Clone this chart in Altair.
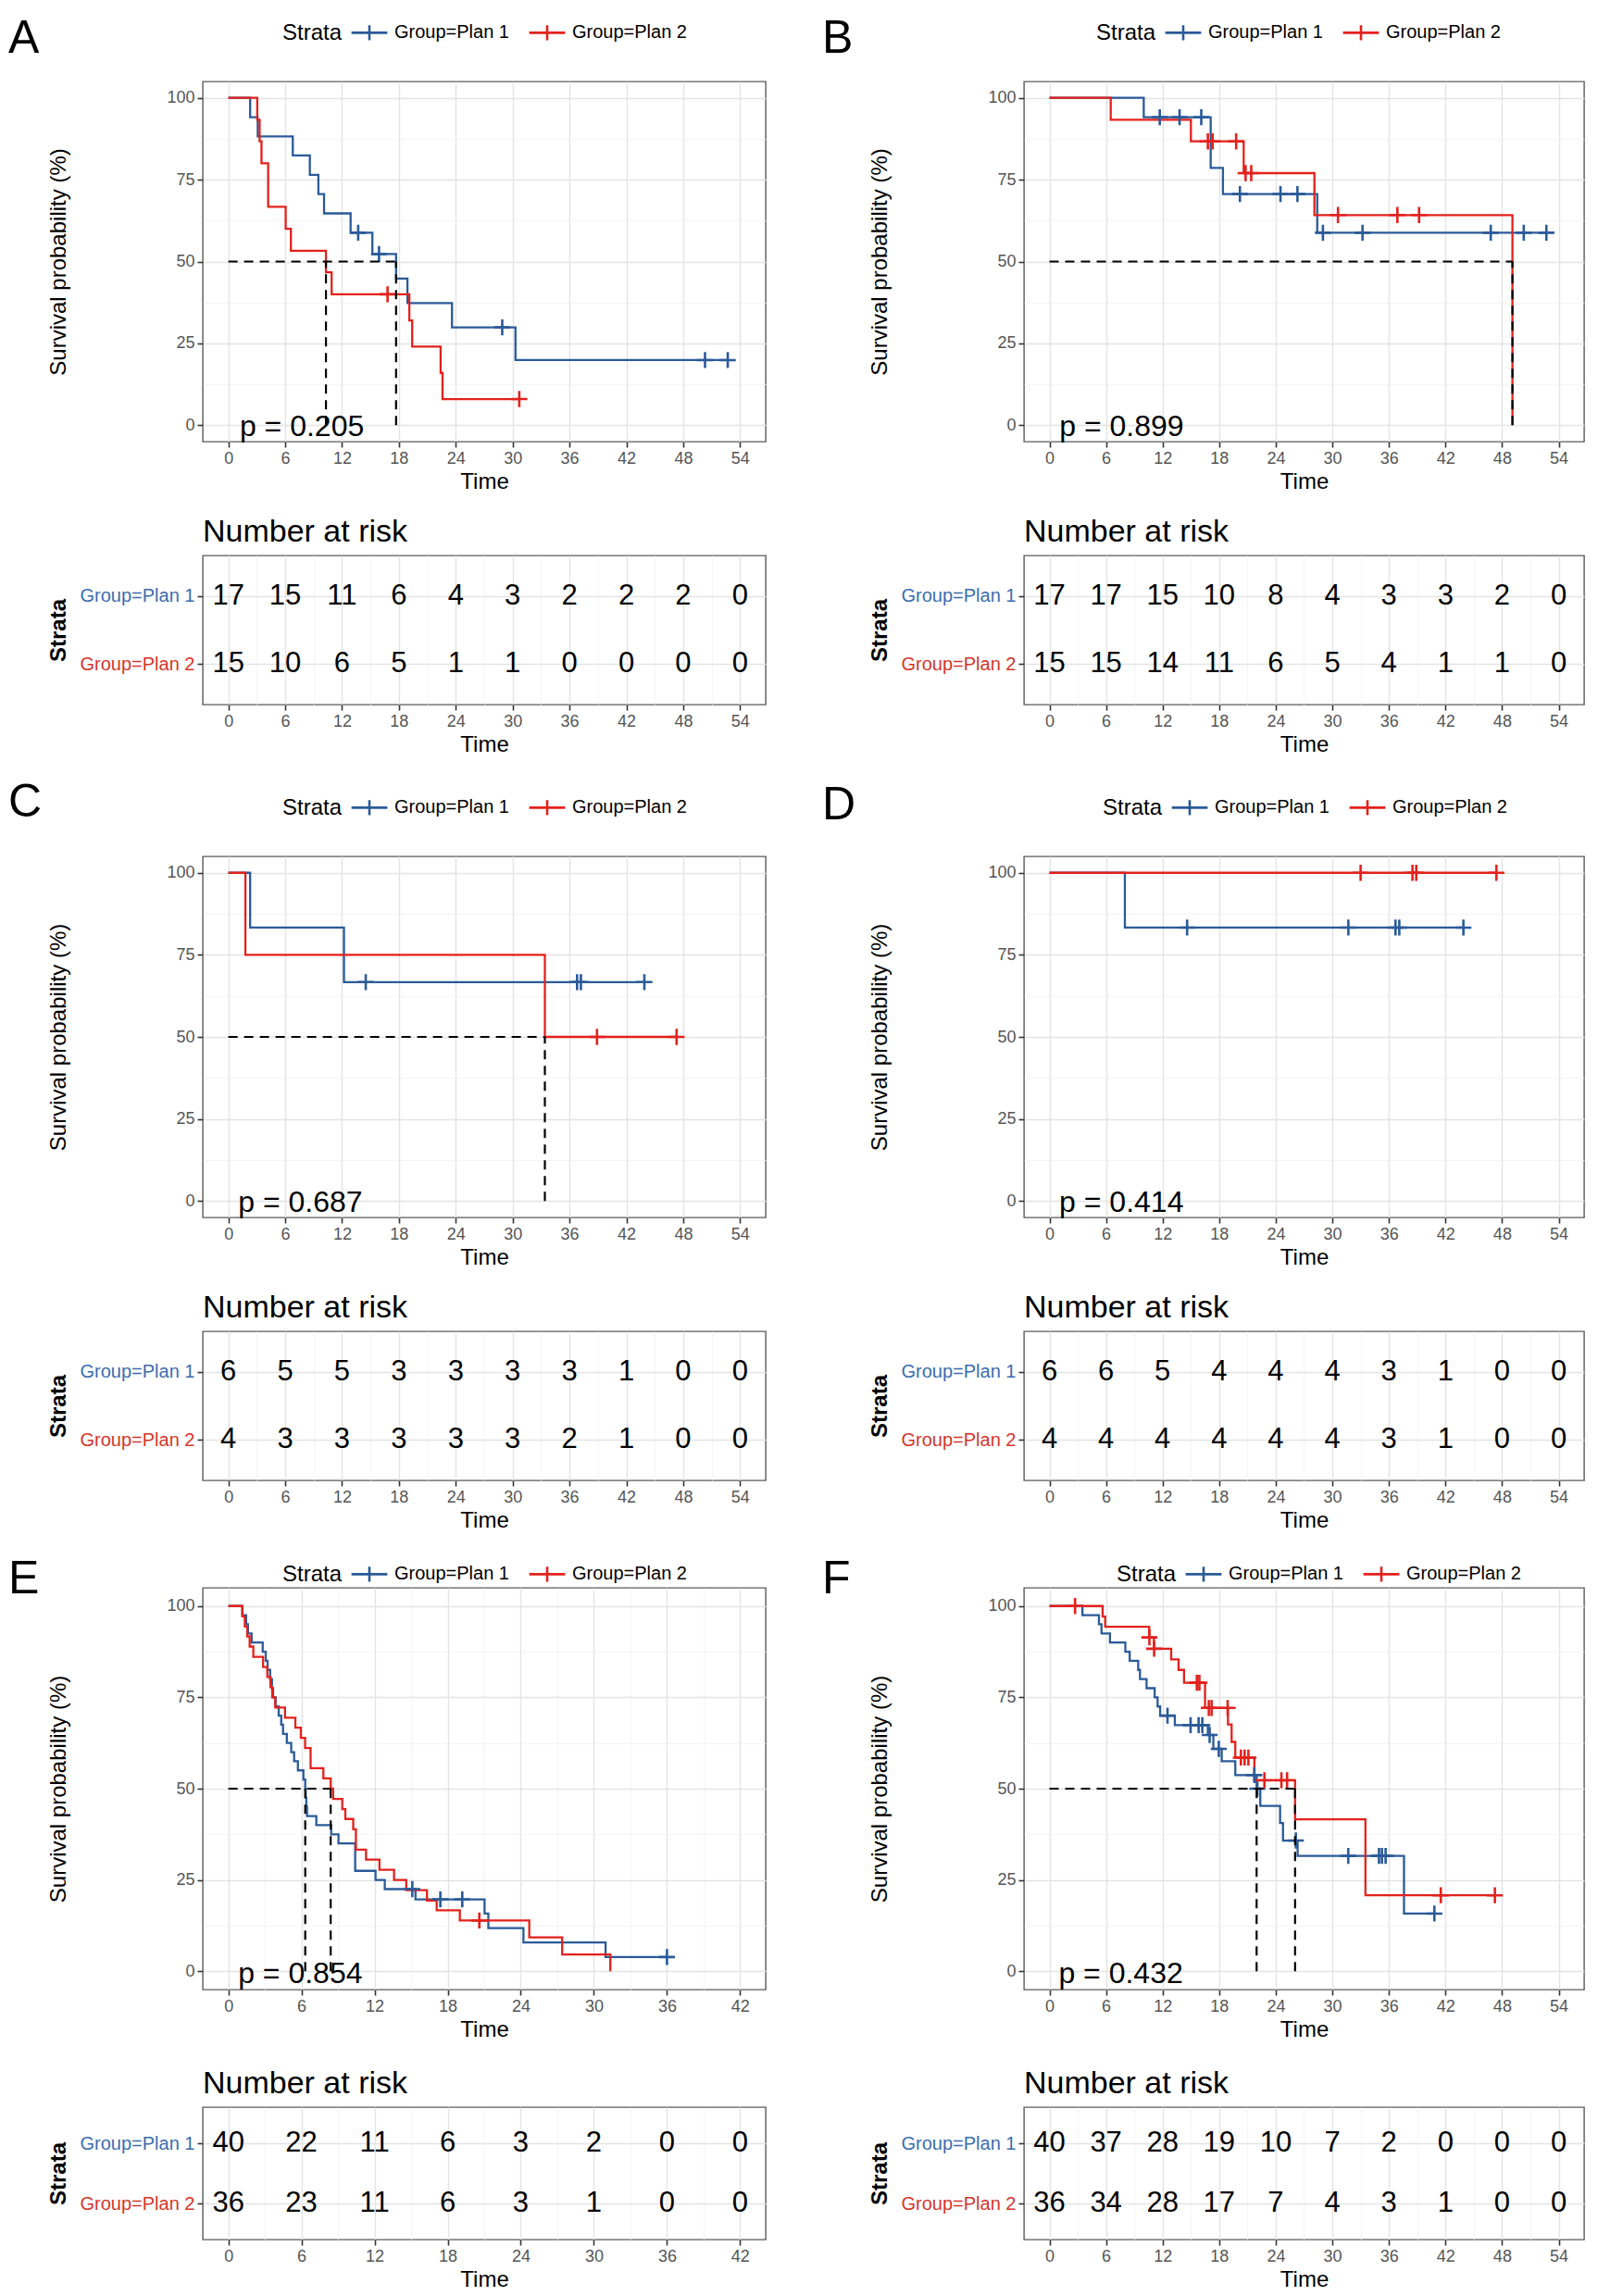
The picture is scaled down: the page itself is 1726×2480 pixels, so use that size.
import altair as alt
import pandas as pd

FONT = "Liberation Sans, Arial, Helvetica, sans-serif"
BLUE = "#2A5A98"
RED = "#E3211C"
BLUE_LAB = "#3A6DAF"
RED_LAB = "#D3362B"
STRATA = ["Group=Plan 1", "Group=Plan 2"]

# ---------------- Panel A ----------------
A_p1_time = [0, 2.3, 3.1, 6.8, 8.6, 9.5, 10.1, 12.9, 15.2, 17.7, 18.9, 23.6, 30.3, 52.7]
A_p1_surv = [100, 94.1, 88.2, 82.4, 76.5, 70.6, 64.7, 58.8, 52.3, 44.8, 37.3, 29.9, 19.9, 19.9]
A_p1_cens_time = [13.7, 15.9, 28.9, 50.3, 52.7]
A_p1_cens_surv = [58.8, 52.3, 29.9, 19.9, 19.9]
A_p2_time = [0, 3.05, 3.3, 3.5, 4.2, 6.05, 6.6, 10.3, 10.9, 19.1, 19.4, 22.4, 22.6, 30.7]
A_p2_surv = [100, 93.3, 86.7, 80.0, 66.7, 60.0, 53.3, 46.7, 40.0, 32.0, 24.0, 16.0, 8.0, 8.0]
A_p2_cens_time = [16.8, 30.7]
A_p2_cens_surv = [40.0, 8.0]
A_medians = [17.7, 10.3]
A_pval = "p = 0.205"
A_risk_p1 = [17, 15, 11, 6, 4, 3, 2, 2, 2, 0]
A_risk_p2 = [15, 10, 6, 5, 1, 1, 0, 0, 0, 0]

# ---------------- Panel B ----------------
B_p1_time = [0, 10.0, 17.1, 18.4, 28.4, 52.7]
B_p1_surv = [100, 94.1, 78.6, 70.6, 58.8, 58.8]
B_p1_cens_time = [11.7, 13.8, 16.1, 20.2, 24.5, 26.3, 29.0, 33.2, 46.8, 50.3, 52.7]
B_p1_cens_surv = [94.1, 94.1, 94.1, 70.6, 70.6, 70.6, 58.8, 58.8, 58.8, 58.8, 58.8]
B_p2_time = [0, 6.5, 15.0, 20.6, 28.1, 49.1]
B_p2_surv = [100, 93.3, 86.7, 77.0, 64.2, 0]
B_p2_cens_time = [16.8, 17.3, 19.8, 20.8, 21.4, 30.6, 36.9, 39.2]
B_p2_cens_surv = [86.7, 86.7, 86.7, 77.0, 77.0, 64.2, 64.2, 64.2]
B_medians = [49.1]
B_pval = "p = 0.899"
B_risk_p1 = [17, 17, 15, 10, 8, 4, 3, 3, 2, 0]
B_risk_p2 = [15, 15, 14, 11, 6, 5, 4, 1, 1, 0]

# ---------------- Panel C ----------------
C_p1_time = [0, 2.3, 12.2, 43.9]
C_p1_surv = [100, 83.3, 66.7, 66.7]
C_p1_cens_time = [14.5, 36.8, 37.2, 43.9]
C_p1_cens_surv = [66.7, 66.7, 66.7, 66.7]
C_p2_time = [0, 1.8, 33.4, 47.3]
C_p2_surv = [100, 75.0, 50.0, 50.0]
C_p2_cens_time = [38.9, 47.3]
C_p2_cens_surv = [50.0, 50.0]
C_medians = [33.4]
C_pval = "p = 0.687"
C_risk_p1 = [6, 5, 5, 3, 3, 3, 3, 1, 0, 0]
C_risk_p2 = [4, 3, 3, 3, 3, 3, 2, 1, 0, 0]

# ---------------- Panel D ----------------
D_p1_time = [0, 8.0, 43.9]
D_p1_surv = [100, 83.3, 83.3]
D_p1_cens_time = [14.6, 31.7, 36.7, 37.1, 43.9]
D_p1_cens_surv = [83.3, 83.3, 83.3, 83.3, 83.3]
D_p2_time = [0, 47.4]
D_p2_surv = [100, 100]
D_p2_cens_time = [33.0, 38.5, 38.9, 47.4]
D_p2_cens_surv = [100, 100, 100, 100]
D_medians = []
D_pval = "p = 0.414"
D_risk_p1 = [6, 6, 5, 4, 4, 4, 3, 1, 0, 0]
D_risk_p2 = [4, 4, 4, 4, 4, 4, 3, 1, 0, 0]

# ---------------- Panel E ----------------
E_p1_time = [0, 1.15, 1.46, 1.61, 1.91, 2.82, 3.07, 3.22, 3.43, 3.58, 3.67, 3.88, 4.13, 4.34,
             4.49, 4.80, 5.16, 5.40, 5.71, 6.16, 6.31, 6.35, 6.40, 6.46, 7.22, 8.44, 9.04,
             10.41, 12.08, 12.84, 15.36, 21.03, 21.34, 24.22, 30.96, 36.0]
E_p1_surv = [100, 97.5, 95, 92.5, 90, 87.5, 85, 82.5, 80, 77.5, 75, 72.5, 70, 67.5,
             65, 62.5, 60, 57.5, 55, 52.5, 50, 47.5, 45, 42.5, 40, 37.5, 35,
             27.5, 25, 22.5, 19.7, 15.8, 11.8, 7.9, 3.9, 3.9]
E_p1_cens_time = [15.1, 17.4, 19.2, 36.0]
E_p1_cens_surv = [22.5, 19.7, 19.7, 3.9]
E_p2_time = [0, 1.15, 1.35, 1.55, 1.75, 2.05, 2.85, 3.2, 3.45, 3.6, 3.85, 4.65, 5.5, 5.95,
             6.3, 6.75, 7.8, 8.4, 8.6, 9.35, 9.6, 10.25, 10.47, 11.3, 12.4, 13.6, 14.6,
             16.3, 17.1, 19.0, 24.7, 27.4, 31.35]
E_p2_surv = [100, 97.2, 94.4, 91.7, 88.9, 86.1, 83.3, 80.6, 77.8, 75.0, 72.2, 69.4, 66.7, 63.9,
             61.1, 55.6, 52.8, 50.0, 47.2, 44.4, 41.7, 38.9, 33.3, 30.6, 27.8, 25.0, 22.2,
             19.4, 16.7, 13.9, 9.3, 4.6, 0]
E_p2_cens_time = [20.6]
E_p2_cens_surv = [13.9]
E_medians = [6.31, 8.4]
E_pval = "p = 0.854"
E_risk_p1 = [40, 22, 11, 6, 3, 2, 0, 0]
E_risk_p2 = [36, 23, 11, 6, 3, 1, 0, 0]

# ---------------- Panel F ----------------
F_p1_time = [0, 3.50, 5.25, 5.52, 6.42, 8.05, 8.51, 9.41, 9.60, 10.30, 11.16, 11.47, 11.74,
             13.30, 16.80, 17.38, 18.27, 19.71, 21.97, 22.36, 24.46, 24.77, 26.32, 37.60, 40.82]
F_p1_surv = [100, 97.5, 95.0, 92.5, 90.0, 87.5, 85.0, 82.5, 80.0, 77.5, 75.0, 72.5, 70.0,
             67.4, 64.7, 60.9, 57.5, 53.7, 50.0, 45.3, 40.6, 35.8, 31.6, 15.8, 15.8]
F_p1_cens_time = [12.52, 14.97, 15.82, 16.21, 16.99, 17.96, 21.73, 22.05, 26.13, 31.69,
                  34.95, 35.26, 35.65, 40.82]
F_p1_cens_surv = [70.0, 67.4, 67.4, 67.4, 64.7, 60.9, 53.7, 50.0, 35.8, 31.6,
                  31.6, 31.6, 31.6, 15.8]
F_p2_time = [0, 5.64, 5.91, 10.58, 11.08, 12.91, 13.69, 14.27, 16.5, 18.93, 19.32, 19.71,
             21.73, 26.05, 33.51, 47.24]
F_p2_surv = [100, 97.1, 94.3, 91.4, 88.3, 85.4, 82.5, 79.0, 72.1, 67.6, 62.8, 58.5,
             52.3, 41.6, 20.8, 20.8]
F_p2_cens_time = [2.72, 10.6, 11.1, 15.63, 15.9, 16.9, 17.2, 18.9, 20.3, 20.7, 21.1,
                  22.8, 24.6, 25.2, 41.5, 47.24]
F_p2_cens_surv = [100, 91.4, 88.3, 79.0, 79.0, 72.1, 72.1, 72.1, 58.5, 58.5, 58.5,
                  52.3, 52.3, 52.3, 20.8, 20.8]
F_medians = [21.97, 26.05]
F_pval = "p = 0.432"
F_risk_p1 = [40, 37, 28, 19, 10, 7, 2, 0, 0, 0]
F_risk_p2 = [36, 34, 28, 17, 7, 4, 3, 1, 0, 0]

MAJOR = "#E3E3E3"
MINOR = "#F1F1F1"


def x_axis(xmax):
    return alt.Axis(
        values=list(range(0, xmax + 1, 3)),
        labelExpr="datum.value % 6 === 0 ? datum.label : ''",
        title="Time",
        grid=True,
        gridColor={"condition": {"test": "datum.value % 6 === 0", "value": MAJOR}, "value": MINOR},
        gridWidth={"condition": {"test": "datum.value % 6 === 0", "value": 1.4}, "value": 0.8},
        tickOpacity={"condition": {"test": "datum.value % 6 === 0", "value": 1}, "value": 0},
        domain=False, labelOverlap=False, labelFlush=False,
        labelFontSize=18, labelColor="#555555", labelPadding=3,
        titleFontSize=24, titleFontWeight="normal", titleColor="black", titlePadding=4,
        tickColor="#333333", tickSize=6, tickWidth=1.6,
    )


def panel(letter, d, xmax, km_h, risk_h, width, letter_x, letter_y, leg_x, leg_y, gap, pval_x):
    (p1t, p1s, p1ct, p1cs, p2t, p2s, p2ct, p2cs, medians, pval, r1, r2) = d
    lines = pd.DataFrame(
        [{"time": t, "surv": s, "strata": STRATA[0], "o": i} for i, (t, s) in enumerate(zip(p1t, p1s))]
        + [{"time": t, "surv": s, "strata": STRATA[1], "o": i} for i, (t, s) in enumerate(zip(p2t, p2s))]
    )
    cens = pd.DataFrame(
        [{"time": t, "surv": s, "strata": STRATA[0]} for t, s in zip(p1ct, p1cs)]
        + [{"time": t, "surv": s, "strata": STRATA[1]} for t, s in zip(p2ct, p2cs)]
    )

    xdom = [-0.05 * xmax, 1.05 * xmax]
    xs = alt.Scale(domain=xdom, nice=False, zero=False)
    ys = alt.Scale(domain=[-5, 105], nice=False, zero=False)
    yaxis = alt.Axis(
        values=[0, 12.5, 25, 37.5, 50, 62.5, 75, 87.5, 100],
        labelExpr="datum.value % 25 === 0 ? datum.label : ''",
        title="Survival probability (%)",
        grid=True,
        gridColor={"condition": {"test": "datum.value % 25 === 0", "value": MAJOR}, "value": MINOR},
        gridWidth={"condition": {"test": "datum.value % 25 === 0", "value": 1.4}, "value": 0.8},
        tickOpacity={"condition": {"test": "datum.value % 25 === 0", "value": 1}, "value": 0},
        domain=False, labelOverlap=False, labelFlush=False,
        labelFontSize=18, labelColor="#555555", labelPadding=3,
        titleFontSize=24, titleFontWeight="normal", titleColor="black",
        titleX=-156, titleY=km_h / 2, titleAngle=270, titleAlign="center", titleBaseline="middle",
        tickColor="#333333", tickSize=6, tickWidth=1.6,
    )
    legend = alt.Legend(
        title="Strata", orient="none", legendX=leg_x, legendY=leg_y, direction="horizontal",
        titleOrient="left", titleFontSize=24, titleFontWeight="normal", titleColor="black",
        titleFont=FONT, labelFont=FONT, labelFontSize=20, labelColor="black",
        symbolType="M-1,0H1M0,-0.42V0.42", symbolSize=1500, symbolStrokeWidth=2.6,
        symbolFillColor="transparent", labelOffset=6, columnPadding=16, titlePadding=8,
        titleBaseline="line-top", titleLineHeight=10, titleAnchor="middle",
    )
    color = alt.Color("strata:N", scale=alt.Scale(domain=STRATA, range=[BLUE, RED]), legend=legend)

    base_x = alt.X("time:Q", scale=xs, axis=x_axis(xmax))
    base_y = alt.Y("surv:Q", scale=ys, axis=yaxis)

    layers = []
    layers.append(alt.Chart(lines).mark_line(interpolate="step-after", strokeWidth=2.3).encode(
        x=base_x, y=base_y, color=color, order="o:Q", detail="strata:N"
    ))
    layers.append(alt.Chart(cens).mark_point(
        shape="M-1,0H1M0,-1V1", filled=False, size=300, strokeWidth=2.6, opacity=1
    ).encode(x="time:Q", y="surv:Q", color=color))
    if medians:
        rules = [{"x": 0, "x2": max(medians), "y": 50, "y2": 50}]
        for m in medians:
            rules.append({"x": m, "x2": m, "y": 0, "y2": 50})
        layers.append(alt.Chart(pd.DataFrame(rules)).mark_rule(
            color="black", strokeDash=[10, 7], strokeWidth=2.2
        ).encode(x="x:Q", x2="x2:Q", y="y:Q", y2="y2:Q"))
    layers.append(alt.Chart(pd.DataFrame({"time": [pval_x], "surv": [-3.3], "label": [pval]})).mark_text(
        align="left", baseline="alphabetic", fontSize=32, font=FONT, color="black"
    ).encode(x="time:Q", y="surv:Q", text="label:N"))
    layers.append(alt.Chart(pd.DataFrame({"letter": [letter]})).mark_text(
        align="left", baseline="middle", fontSize=50, font=FONT, color="black"
    ).encode(x=alt.value(letter_x), y=alt.value(letter_y), text="letter:N"))

    km = alt.layer(*layers).properties(width=width, height=km_h)

    rt = list(range(0, xmax + 1, 6))
    risk_df = pd.DataFrame(
        [{"time": t, "row": 1, "n": n} for t, n in zip(rt, r1)]
        + [{"time": t, "row": 2, "n": n} for t, n in zip(rt, r2)]
    )
    ry_axis = alt.Axis(
        values=[1, 2],
        labelExpr="datum.value === 1 ? 'Group=Plan 1' : 'Group=Plan 2'",
        labelColor={"condition": {"test": "datum.value === 1", "value": BLUE_LAB}, "value": RED_LAB},
        title="Strata", grid=True, gridColor=MAJOR, gridWidth=1.4, domain=False,
        labelFontSize=20, labelPadding=3, labelOverlap=False,
        titleFontSize=24, titleFontWeight="bold", titleColor="black",
        titleX=-156, titleY=risk_h / 2, titleAngle=270, titleAlign="center", titleBaseline="middle",
        tickColor="#333333", tickSize=6, tickWidth=1.6,
    )
    risk = alt.Chart(risk_df).mark_text(fontSize=31, font=FONT, color="black").encode(
        x=alt.X("time:Q", scale=alt.Scale(domain=xdom, nice=False, zero=False), axis=x_axis(xmax)),
        y=alt.Y("row:Q", scale=alt.Scale(domain=[0.4, 2.6], reverse=True, nice=False, zero=False),
                axis=ry_axis),
        text="n:Q",
    ).properties(
        width=width, height=risk_h,
        title=alt.TitleParams("Number at risk", anchor="start", frame="group", fontSize=34,
                              fontWeight="normal", font=FONT, color="black", offset=8),
    )
    return alt.vconcat(km, risk, spacing=gap).resolve_scale(color="independent", x="independent", y="independent")


def data(prefix):
    g = globals()
    return tuple(g[prefix + k] for k in [
        "_p1_time", "_p1_surv", "_p1_cens_time", "_p1_cens_surv",
        "_p2_time", "_p2_surv", "_p2_cens_time", "_p2_cens_surv",
        "_medians", "_pval", "_risk_p1", "_risk_p2"])


pA = panel("A", data("A"), 54, 389, 161, 608, -210, -46, 86, -74, 24, 1.2)
pB = panel("B", data("B"), 54, 389, 161, 605, -218, -46, 78, -74, 24, 1.05)
pC = panel("C", data("C"), 54, 390, 161, 608, -210, -58, 86, -74, 24, 1.04)
pD = panel("D", data("D"), 54, 390, 161, 605, -218, -55, 85, -74, 24, 1.04)
pE = panel("E", data("E"), 42, 434, 143, 608, -210, -9, 86, -36, 28, 0.8)
pF = panel("F", data("F"), 54, 434, 143, 605, -218, -9, 100, -36, 28, 0.97)

row1 = alt.hconcat(pA, pB, spacing=59).resolve_scale(color="independent")
row2 = alt.hconcat(pC, pD, spacing=59).resolve_scale(color="independent")
row3 = alt.hconcat(pE, pF, spacing=59).resolve_scale(color="independent")

top = alt.vconcat(row1, row2, spacing=24).resolve_scale(color="independent")
chart = alt.vconcat(top, row3, spacing=23).resolve_scale(color="independent").properties(
    padding={"left": 0, "top": 5, "right": 4, "bottom": 0}, background="white"
).configure_view(stroke="#5A5A5A", strokeWidth=1.4).configure_axis(
    labelFont=FONT, titleFont=FONT
).configure_title(font=FONT).configure_legend(labelFont=FONT, titleFont=FONT)

chart.save("out.html", embed_options={"renderer": "svg", "actions": False})
